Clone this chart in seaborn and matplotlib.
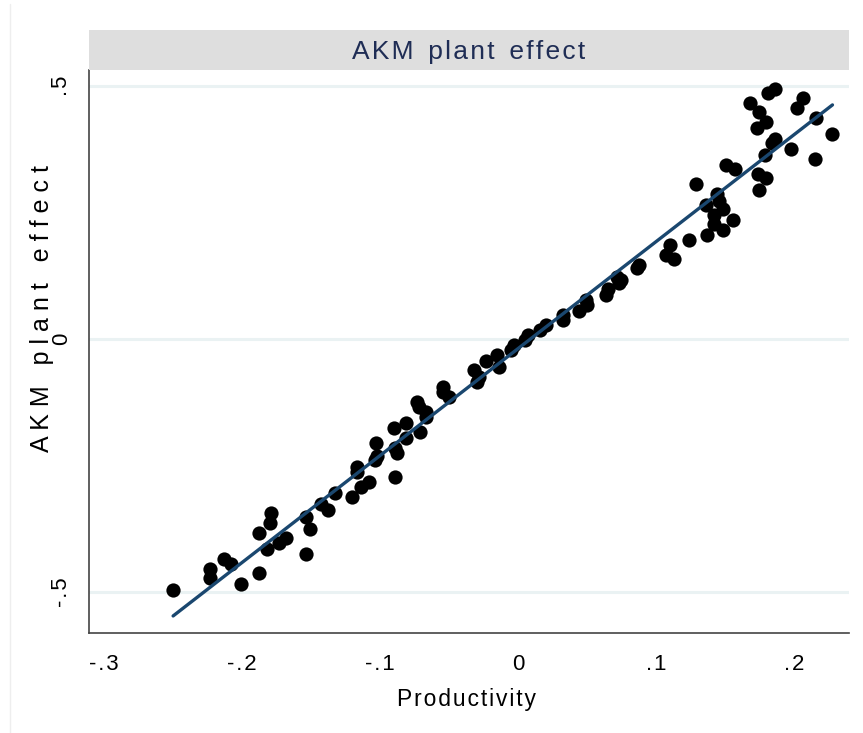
import matplotlib
matplotlib.use("Agg")
import matplotlib.pyplot as plt
import seaborn as sns
import pandas as pd
from matplotlib.lines import Line2D

# productivity vs AKM plant effect
productivity = [
    -0.250, -0.223, -0.223, -0.213, -0.208, -0.201, -0.188, -0.188, -0.182, -0.180,
    -0.179, -0.173, -0.168, -0.154, -0.151, -0.154, -0.143, -0.138,
    -0.133, -0.120, -0.114, -0.108, -0.117, -0.117, -0.103, -0.104, -0.102, -0.089,
    -0.090, -0.089, -0.088, -0.081, -0.081, -0.073, -0.072, -0.067, -0.067, -0.071,
    -0.054, -0.054, -0.050,
    -0.032, -0.030, -0.028, -0.023, -0.015, -0.014, -0.005, -0.003, 0.005, 0.007,
    0.016, 0.020, 0.033, 0.033, 0.044, 0.049, 0.050, 0.064, 0.065, 0.072,
    0.073, 0.075, 0.086, 0.088,
    0.107, 0.110, 0.113, 0.124, 0.129, 0.136, 0.137, 0.142, 0.142, 0.144,
    0.146, 0.149, 0.149, 0.156, 0.151, 0.157, 0.168, 0.175, 0.180, 0.173,
    0.174, 0.180, 0.175, 0.179, 0.184, 0.186, 0.181, 0.186, 0.198, 0.202,
    0.207, 0.216, 0.215, 0.228,
]
akm_effect = [
    -0.495, -0.454, -0.473, -0.435, -0.445, -0.484, -0.462, -0.384, -0.414, -0.363,
    -0.343, -0.404, -0.394, -0.352, -0.375, -0.425, -0.325, -0.337,
    -0.305, -0.313, -0.293, -0.282, -0.252, -0.262, -0.205, -0.239, -0.231, -0.273,
    -0.175, -0.216, -0.225, -0.165, -0.196, -0.124, -0.135, -0.144, -0.154, -0.183,
    -0.094, -0.104, -0.114,
    -0.061, -0.084, -0.074, -0.043, -0.032, -0.055, -0.022, -0.012, -0.002, 0.008,
    0.018, 0.028, 0.038, 0.047, 0.056, 0.077, 0.067, 0.087, 0.100, 0.123,
    0.110, 0.117, 0.140, 0.146,
    0.166, 0.186, 0.158, 0.196, 0.306, 0.266, 0.206, 0.246, 0.227, 0.286,
    0.273, 0.257, 0.215, 0.236, 0.345, 0.336, 0.466, 0.448, 0.429, 0.418,
    0.327, 0.318, 0.294, 0.364, 0.387, 0.395, 0.486, 0.495, 0.375, 0.456,
    0.477, 0.437, 0.356, 0.406,
]
xticks = [-0.3, -0.2, -0.1, 0.0, 0.1, 0.2]
xtick_labels = ["-.3", "-.2", "-.1", "0", ".1", ".2"]
yticks = [-0.5, 0.0, 0.5]
ytick_labels = ["-.5", "0", ".5"]

df = pd.DataFrame({"Productivity": productivity, "AKM plant effect": akm_effect})

sns.set_style("white")
plt.rcParams["font.family"] = ["Liberation Sans", "DejaVu Sans"]
plt.rcParams["text.color"] = "black"
plt.rcParams["axes.labelcolor"] = "black"
plt.rcParams["xtick.color"] = "black"
plt.rcParams["ytick.color"] = "black"


def spaced(s, gap="\u200a", word_gap="  "):
    # stata-ish letter spacing
    return word_gap.join(gap.join(w) for w in s.split(" "))


fig = plt.figure(figsize=(8.63, 7.33), dpi=100)
ax = fig.add_axes([0.1031, 0.1364, 0.8807, 0.7681])

for y in yticks:
    ax.axhline(y, color="#eaf2f3", lw=2.2, zorder=0)

sns.regplot(data=df, x="Productivity", y="AKM plant effect", ax=ax, ci=None,
            scatter_kws=dict(color="black", s=105, linewidths=0, alpha=1),
            line_kws=dict(color="#1a476f", lw=2.4))

ax.set_xlim(-0.311, 0.240)
ax.set_ylim(-0.581, 0.532)
ax.set_xticks(xticks)
ax.set_xticklabels([spaced(t) for t in xtick_labels], fontsize=16)
ax.set_yticks(yticks)
ax.set_yticklabels([spaced(t) for t in ytick_labels], fontsize=16, rotation=90, va="center")
ax.tick_params(axis="both", direction="out", length=7, width=1, color="#333333")
ax.tick_params(axis="x", pad=8)
ax.tick_params(axis="y", pad=5)

for side in ["top", "right"]:
    ax.spines[side].set_visible(False)
for side in ["left", "bottom"]:
    ax.spines[side].set_color("#444444")
    ax.spines[side].set_linewidth(1.2)

ax.set_xlabel(spaced("Productivity"), fontsize=16.5)
ax.set_ylabel(spaced("AKM plant effect", gap=" ", word_gap="   "), fontsize=18)
ax.xaxis.set_label_coords(0.497, -0.098)
ax.yaxis.set_label_coords(-0.046, 0.577)

# grey strip with the panel title
strip = fig.add_axes([0.1031, 0.9045, 0.8807, 0.0546])
strip.set_facecolor("#dedede")
strip.set_xticks([])
strip.set_yticks([])
for sp in strip.spines.values():
    sp.set_visible(False)
strip.text(0.5, 0.45, spaced("AKM plant effect"),
           ha="center", va="center", fontsize=19, color="#1f2d55",
           transform=strip.transAxes)

# faint outer frame on the left
fig.add_artist(Line2D([0.0116, 0.0116], [0.0, 0.995], color="#eeeeee", lw=1,
                      transform=fig.transFigure))

fig.savefig("out.png", dpi=100)
